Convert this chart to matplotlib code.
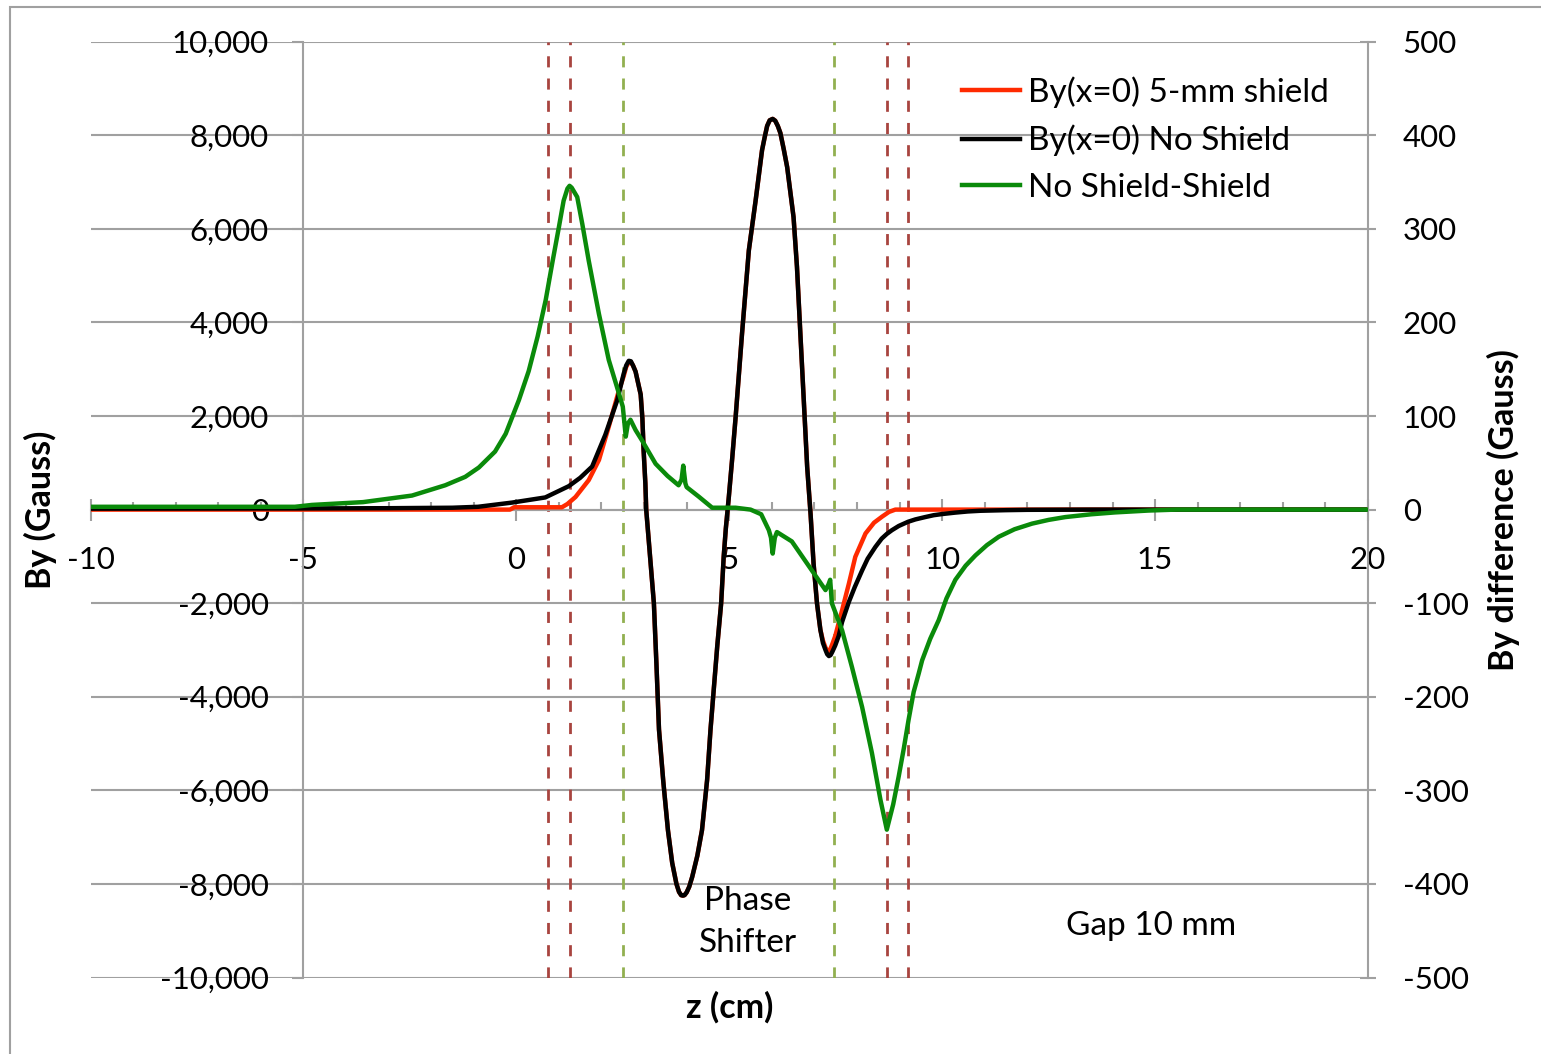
import matplotlib
matplotlib.use("Agg")
import matplotlib.pyplot as plt
from matplotlib.patches import Rectangle
from matplotlib.ticker import FuncFormatter, MultipleLocator

plt.rcParams['font.family'] = ['Lato', 'DejaVu Sans']
plt.rcParams['axes.unicode_minus'] = False

# By(x=0) No Shield (Gauss)
z_black = [-10, -5, -3, -1.5, -0.9, -0.1, 0.68, 1.23, 1.5, 1.78, 2.09, 2.37, 2.52, 2.58,
           2.64, 2.69, 2.74, 2.80, 2.92, 2.96, 2.99, 3.03, 3.05, 3.14, 3.23, 3.29, 3.35,
           3.45, 3.56, 3.66, 3.76, 3.82, 3.87, 3.91, 3.95, 4.00, 4.06, 4.13, 4.25, 4.36,
           4.48, 4.56, 4.64, 4.72, 4.81, 4.87, 4.92, 4.99, 5.07, 5.15, 5.30, 5.46, 5.62,
           5.77, 5.83, 5.89, 5.95, 6.02, 6.08, 6.14, 6.20, 6.28, 6.36, 6.51, 6.59, 6.67,
           6.75, 6.83, 6.91, 6.98, 7.06, 7.14, 7.20, 7.26, 7.30, 7.34, 7.38, 7.42, 7.49,
           7.57, 7.65, 7.81, 7.95, 8.12, 8.25, 8.43, 8.58, 8.70, 8.82, 8.98, 9.2, 9.37,
           9.6, 9.8, 10.0, 10.3, 10.6, 10.9, 11.5, 12.0, 13.5, 20]
by_black = [20, 25, 30, 40, 60, 150, 260, 500, 680, 920, 1600, 2340, 2900, 3080,
            3180, 3170, 3080, 2950, 2460, 1950, 1250, 560, 0, -1000, -2000, -3300, -4700,
            -5800, -6850, -7550, -8000, -8170, -8240, -8250, -8240, -8180, -8060, -7850, -7400, -6850,
            -5780, -4700, -3800, -2900, -2000, -1000, -400, 270, 1100, 1980, 3760, 5540, 6610,
            7680, 7950, 8200, 8320, 8350, 8310, 8200, 8050, 7700, 7320, 6250, 5190, 3760,
            2340, 910, -100, -1150, -2000, -2570, -2850, -3000, -3090, -3130, -3110, -3040, -2900,
            -2700, -2400, -1970, -1650, -1300, -1050, -800, -620, -520, -440, -350, -260, -210,
            -160, -120, -95, -65, -40, -25, -12, -5, 0, 0]

# By(x=0) 5-mm shield (Gauss)
z_red = [-10, -5, -0.15, -0.05, 1.07, 1.2, 1.39, 1.70, 1.94, 2.17, 2.41, 2.52, 2.58,
         2.64, 2.69, 2.74, 2.80, 2.92, 2.96, 2.99, 3.03, 3.05, 3.14, 3.23, 3.29, 3.35,
         3.45, 3.56, 3.66, 3.76, 3.82, 3.87, 3.91, 3.95, 4.00, 4.06, 4.13, 4.25, 4.36,
         4.48, 4.56, 4.64, 4.72, 4.81, 4.87, 4.92, 4.99, 5.07, 5.15, 5.30, 5.46, 5.62,
         5.77, 5.83, 5.89, 5.95, 6.02, 6.08, 6.14, 6.20, 6.28, 6.36, 6.51, 6.59, 6.67,
         6.75, 6.83, 6.91, 6.98, 7.06, 7.14, 7.20, 7.26, 7.30, 7.33, 7.37, 7.41, 7.49,
         7.65, 7.81, 7.96, 8.20, 8.40, 8.59, 8.75, 8.9, 20]
by_red = [0, 0, 0, 50, 50, 120, 270, 630, 1060, 1770, 2550, 2850, 3050,
          3150, 3150, 3080, 2950, 2460, 1950, 1250, 560, 0, -1000, -2000, -3300, -4700,
          -5800, -6850, -7550, -8000, -8170, -8240, -8250, -8240, -8180, -8060, -7850, -7400, -6850,
          -5780, -4700, -3800, -2900, -2000, -1000, -400, 270, 1100, 1980, 3760, 5540, 6610,
          7680, 7950, 8200, 8320, 8350, 8310, 8200, 8050, 7700, 7320, 6250, 5190, 3760,
          2340, 910, -100, -1150, -2000, -2570, -2800, -2950, -3010, -3030, -2990, -2900, -2700,
          -2150, -1580, -1010, -510, -280, -150, -50, 0, 0]

# No Shield - Shield (Gauss, right axis)
z_diff = [-10, -5.2, -4.8, -3.6, -2.45, -1.67, -1.2, -0.88, -0.5, -0.25, 0.06, 0.29, 0.5,
          0.69, 0.85, 1.0, 1.11, 1.2, 1.25, 1.3, 1.43, 1.55, 1.70, 1.94, 2.17, 2.41, 2.50,
          2.57, 2.62, 2.68, 2.8, 2.95, 3.27, 3.55, 3.81, 3.88, 3.92, 3.97, 4.0, 4.28, 4.6,
          5.15, 5.5, 5.75, 5.93, 5.98, 6.02, 6.07, 6.12, 6.47, 6.94, 7.26, 7.33, 7.37, 7.41,
          7.65, 7.88, 8.12, 8.35, 8.55, 8.70, 8.85, 8.98, 9.1, 9.21, 9.33, 9.45, 9.53, 9.72,
          9.92, 10.1, 10.31, 10.55, 10.78, 11.05, 11.33, 11.7, 12.11, 12.5, 12.89, 13.5,
          14.06, 14.85, 15.5, 20]
d_diff = [3, 3, 5, 8, 15, 26, 35, 45, 62, 81, 117, 148, 185,
          224, 265, 302, 330, 343, 346, 344, 334, 305, 266, 209, 160, 124, 110,
          78, 92, 96, 85, 74, 49, 36, 26, 32, 47, 28, 24, 14, 2,
          2, 0, -5, -22, -30, -47, -30, -24, -34, -65, -86, -80, -75, -100,
          -129, -168, -211, -260, -310, -342, -315, -285, -255, -225, -195, -175, -161, -138,
          -118, -95, -75, -60, -49, -38, -29, -21, -15, -11, -8, -5,
          -3, -1, 0, 0]

red_marks = [0.75, 1.25, 8.7, 9.2]
green_marks = [2.5, 7.45]

W, H = 1541, 1054
fig = plt.figure(figsize=(W / 100, H / 100), dpi=100)

def fx(x):
    return x / W

def fy(y):
    return 1 - y / H

ax = fig.add_axes([fx(90.5), fy(977.5), fx(1368) - fx(90.5), fy(41.7) - fy(977.5)])
ax.set_xlim(-10, 20)
ax.set_ylim(-10000, 10000)
ax.set_axisbelow(True)

grey = '#a0a0a0'
for z in red_marks:
    ax.axvline(z, color='#a8443f', lw=2, ls=(0, (4, 4)), zorder=1)
for z in green_marks:
    ax.axvline(z, color='#92b050', lw=2, ls=(0, (4, 4)), zorder=1)

l_red, = ax.plot(z_red, by_red, color='#ff2a00', lw=3.2, zorder=3,
                 label='By(x=0) 5-mm shield')
l_black, = ax.plot(z_black, by_black, color='black', lw=3.2, zorder=3,
                   label='By(x=0) No Shield')

ax.spines['top'].set_visible(False)
ax.spines['right'].set_visible(False)
ax.spines['left'].set_position(('data', -5))
ax.spines['bottom'].set_position(('data', 0))
for s in ['left', 'bottom']:
    ax.spines[s].set_color(grey)
    ax.spines[s].set_linewidth(1.5)

ax.grid(axis='y', color=grey, lw=1.5)
ax.set_yticks(range(-10000, 10001, 2000))
ax.yaxis.set_major_formatter(FuncFormatter(lambda v, p: f'{int(v):,}'))
ax.set_xticks(range(-10, 21, 5))
ax.xaxis.set_minor_locator(MultipleLocator(1))
ax.tick_params(axis='y', direction='out', length=8, width=1.5, color=grey,
               pad=17, labelsize=22.5)
ax.tick_params(axis='x', which='major', direction='inout', length=16, width=1.5,
               color=grey, pad=18, labelsize=22.5)
ax.tick_params(axis='x', which='minor', direction='in', length=5.5, width=1.5, color=grey)

ax2 = ax.twinx()
ax2.set_ylim(-500, 500)
l_green, = ax2.plot(z_diff, d_diff, color='#0a8a0a', lw=3.2, zorder=3,
                    label='No Shield-Shield')
for s in ['top', 'left', 'bottom']:
    ax2.spines[s].set_visible(False)
ax2.spines['right'].set_color(grey)
ax2.spines['right'].set_linewidth(1.5)
ax2.set_yticks(range(-500, 501, 100))
ax2.yaxis.set_major_formatter(FuncFormatter(lambda v, p: f'{int(v)}'))
ax2.tick_params(axis='y', direction='inout', length=12, width=1.5, color=grey,
                pad=19, labelsize=22.5)

ax2.legend(handles=[l_red, l_black, l_green], loc='upper left',
           bbox_to_anchor=(fx(962), fy(76.5)), bbox_transform=fig.transFigure,
           frameon=False, borderpad=0, borderaxespad=0, handlelength=1.74,
           handletextpad=0.24, labelspacing=0.5, fontsize=24)

fig.text(fx(40), fy(510), 'By (Gauss)', rotation=90, ha='center', va='center',
         fontsize=24.5, fontweight='bold')
fig.text(fx(1503), fy(510), 'By difference (Gauss)', rotation=90, ha='center',
         va='center', fontsize=24.5, fontweight='bold')
fig.text(fx(730), fy(1007), 'z (cm)', ha='center', va='center', fontsize=24.5,
         fontweight='bold')
fig.text(fx(748), fy(901), 'Phase', ha='center', va='center', fontsize=24)
fig.text(fx(748), fy(943), 'Shifter', ha='center', va='center', fontsize=24)
fig.text(fx(1151), fy(926), 'Gap 10 mm', ha='center', va='center', fontsize=24)

fig.add_artist(Rectangle((fx(10), fy(1065)), 1.1, fy(7) - fy(1065),
                         transform=fig.transFigure, fill=False, ec=grey, lw=1.5))

fig.savefig('out.png', dpi=100)
